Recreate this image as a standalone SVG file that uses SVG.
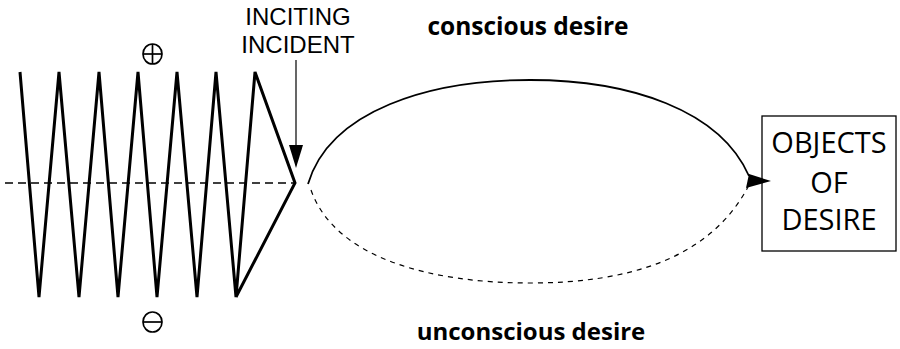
<svg xmlns="http://www.w3.org/2000/svg" width="900" height="349" viewBox="0 0 900 349">
<style>
.t{font-family:"Open Sans","Liberation Sans",sans-serif;fill:#000}
.lbl{font-family:"Liberation Sans",Arial,sans-serif;font-size:24px;fill:#000}
.b{font-weight:bold}
.box{font-size:29px}
.zz{fill:none;stroke:#000;stroke-width:3;stroke-linejoin:miter}
.sym{fill:none;stroke:#000;stroke-width:1.7}
</style>
<rect width="900" height="349" fill="#fff"/>
<g id="zigzag">
<path class="zz" d="M20,72 L39,297 L59,72 L79,297 L99,72 L118,297 L138,72 L157,297 L177,72 L197,297 L216,72 L236,297 L255,72 L295,183 L236,297"/>
<line x1="5" y1="183" x2="295" y2="183" stroke="#000" stroke-width="1.3" stroke-dasharray="8,5"/>
</g>
<g id="plus">
<ellipse class="sym" cx="152.5" cy="54" rx="9.5" ry="10"/>
<line class="sym" x1="143" y1="54" x2="162" y2="54"/>
<line class="sym" x1="152.5" y1="44" x2="152.5" y2="64"/>
</g>
<g id="minus">
<ellipse class="sym" cx="152.5" cy="322" rx="9.5" ry="10"/>
<line class="sym" x1="143" y1="322" x2="162" y2="322" stroke-width="2.2"/>
</g>
<g id="inciting">
<text class="lbl" x="298" y="25" text-anchor="middle">INCITING</text>
<text class="lbl" x="298" y="53" text-anchor="middle">INCIDENT</text>
</g>
<g id="objects">
<rect x="762" y="116" width="134" height="135" fill="#fff" stroke="#000" stroke-width="1.3"/>
<text class="t box" x="829" y="153" text-anchor="middle">OBJECTS</text>
<text class="t box" x="829" y="193" text-anchor="middle">OF</text>
<text class="t box" x="829" y="230" text-anchor="middle">DESIRE</text>
</g>
<g id="conscious">
<text class="t b" x="528" y="35" text-anchor="middle" font-size="24.5">conscious desire</text>
</g>
<g id="unconscious">
<text class="t b" x="531" y="340" text-anchor="middle" font-size="24">unconscious desire</text>
</g>
<g id="connectors">
<line x1="296" y1="60" x2="296" y2="148" stroke="#000" stroke-width="1.2"/>
<polygon points="289,145 303,145 296,168" fill="#000"/>
<path d="M308,184 C330,110 430,80 530,80 C630,80 720,110 749,176" fill="none" stroke="#000" stroke-width="1.8"/>
<polygon points="771,181 749,174 746,188" fill="#000"/>
<path d="M311,190 C335,258 430,283 530,283 C630,283 710,258 748,187" fill="none" stroke="#000" stroke-width="1.2" stroke-dasharray="5,5"/>
</g>
</svg>
